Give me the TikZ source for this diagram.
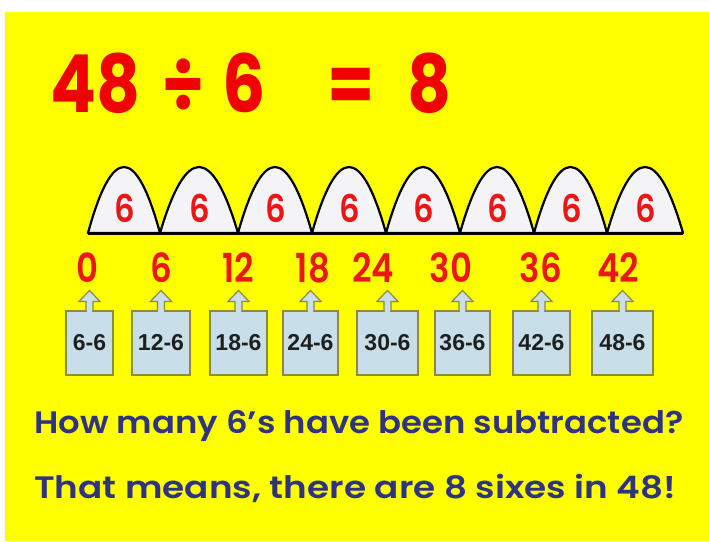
\documentclass[tikz,border=0pt]{standalone}
\usepackage{fontspec}
\usetikzlibrary{calc}
\newfontfamily\comic{Poppins}[FakeStretch=0.85]
\newfontfamily\comicsb{Poppins SemiBold}[FakeStretch=0.85]
\newfontfamily\arialf{Liberation Sans}
\definecolor{bgyellow}{RGB}{255,255,0}
\definecolor{titlered}{RGB}{240,0,0}
\definecolor{numred}{RGB}{236,22,22}
\definecolor{navy}{RGB}{46,52,128}
\definecolor{boxfill}{RGB}{200,222,232}
\definecolor{boxline}{RGB}{140,140,60}
\definecolor{archfill}{RGB}{244,244,246}
\begin{document}
\begin{tikzpicture}[x=1pt,y=-1pt,
  title/.style={inner sep=0pt, anchor=base, text=titlered, font=\comic\bfseries\fontsize{80}{80}\selectfont},
  archnum/.style={inner sep=0pt, anchor=base, text=numred, font=\comicsb\fontsize{38}{38}\selectfont},
  linenum/.style={inner sep=0pt, anchor=base, text=numred, font=\comicsb\fontsize{40}{40}\selectfont},
  archshape/.style={fill=archfill, draw=black, line width=2.2pt, line join=round},
  subbox/.style={draw=boxline, fill=boxfill, line width=1.2pt, minimum height=64pt, inner sep=0pt,
     text=black!88, font=\arialf\bfseries\fontsize{23}{23}\selectfont},
  uparrow/.style={draw=boxline, fill=boxfill, line width=1.2pt, line join=miter},
  question/.style={inner sep=0pt, anchor=base west, text=navy, font=\comicsb\fontsize{31}{31}\selectfont}]
\useasboundingbox (0,0) rectangle (709,541);
\fill[white] (0,0) rectangle (709,541);
\fill[bgyellow] (5,12) rectangle (709,541);

% title
\node[title] (t1) at (96,112) {48};
\node[title] (t2) at (183,112) {÷};
\node[title] (t3) at (244.5,112) {6};
\node[title] (t4) at (351.5,112) {=};
\node[title] (t5) at (429.5,112) {8};

% arches
\foreach \a/\b [count=\i] in {88/160,160/238,238/312,312/386,386/460,460/534,534/607,607/683}{
  \filldraw[archshape] (\a,233) .. controls ({\a+(\b-\a)/3},145) and ({\a+2*(\b-\a)/3},145) .. (\b,233) -- cycle;
  \node[archnum] (s\i) at ({(\a+\b)/2+1},222) {6};
}
\draw[line width=3pt] (88,233) -- (683,233);

% numbers
\foreach \x/\t [count=\i] in {87/0,161/6,238/12,313/18,373/24,451/30,541/36,618/42}{
  \node[linenum] (n\i) at (\x,282) {\t};
}

% boxes
\foreach \l/\r/\t [count=\i] in {66/113/6-6,132/190/12-6,210/267/18-6,283/338/24-6,357/418/30-6,435/490/36-6,513/570/42-6,592/653/48-6}{
  \node[subbox, minimum width={(\r-\l)*1pt}] (b\i) at ({(\l+\r)/2},343) {\t};
  \draw[uparrow] ($(b\i.north)+(-3.5,0)$) -- ++(0,-9) -- ++(-7,0) -- ($(b\i.north)+(0,-20)$)
     -- ($(b\i.north)+(10.5,-9)$) -- ++(-7,0) -- ($(b\i.north)+(3.5,0)$);
  \fill[boxfill] ($(b\i.north)+(-2.9,-0.5)$) rectangle ($(b\i.north)+(2.9,1.2)$);
}

% bottom text
\node[question] (q1) at (34,433) {\resizebox{649pt}{\height}{How many 6’s have been subtracted?}};
\node[question] (q2) at (34,498) {\resizebox{642pt}{\height}{That means, there are 8 sixes in 48!}};
\end{tikzpicture}
\end{document}
